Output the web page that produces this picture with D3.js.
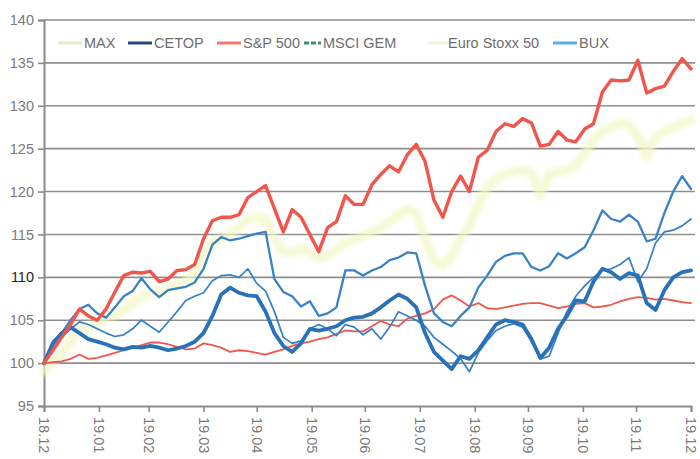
<!DOCTYPE html>
<html>
<head>
<meta charset="utf-8">
<script src="https://cdn.jsdelivr.net/npm/d3@7"></script>
<style>
  html, body { margin: 0; background: #fff; }
  svg { display: block; font-family: "Liberation Sans", Arial, sans-serif; }
</style>
</head>
<body>
<div id="chart"></div>
<script>
const W = 700, H = 459;

// series, every 5 calendar days from 2018-12-31
const startDate = new Date(2018, 11, 31);
const stepDays = 5;

const maxIdx = [100, 100.1, 100.2, 100.5, 101, 100.5, 100.6, 100.9, 101.2, 101.5,
  101.8, 102.1, 102.4, 102.4, 102.2, 101.9, 101.6, 101.7, 102.3, 102.1,
  101.8, 101.3, 101.5, 101.4, 101.2, 101, 101.3, 101.6, 102, 102.3,
  102.5, 102.8, 103, 103.4, 103.8, 103.7, 103.7, 104.3, 104.9, 104.5,
  104.3, 105.2, 105.5, 105.8, 106.3, 107.4, 107.9, 107.3, 106.6, 107,
  106.4, 106.3, 106.5, 106.7, 106.9, 107, 107, 106.7, 106.4, 106.6,
  106.9, 107, 106.5, 106.6, 106.8, 107.2, 107.5, 107.7, 107.6, 107.4,
  107.5, 107.3, 107.1, 107];

const cetop = [100, 102.3, 103.5, 104.2, 103.5, 102.8, 102.5, 102.2, 101.8, 101.6,
  101.9, 101.8, 102, 101.8, 101.5, 101.7, 102, 102.5, 103.5, 105.5,
  108, 108.8, 108.2, 107.9, 107.8, 106, 103.5, 102, 101.3, 102.3,
  104, 103.8, 104, 104.3, 105, 105.3, 105.4, 105.8, 106.5, 107.3,
  108, 107.5, 106.5, 103.5, 101.3, 100.3, 99.3, 100.8, 100.5, 101.5,
  103, 104.5, 105, 104.8, 104.5, 102.8, 100.6, 101.8, 104, 105.5,
  107.3, 107.2, 109.5, 111, 110.6, 109.8, 110.5, 110.2, 107, 106.2,
  108.5, 110, 110.6, 110.8];

const sp500 = [100, 101.5, 103, 104.5, 106.3, 105.5, 105, 106.3, 108.3, 110.2,
  110.6, 110.5, 110.7, 109.5, 109.8, 110.8, 110.9, 111.5, 114.5, 116.6,
  117, 117, 117.3, 119.3, 120, 120.7, 118, 115.3, 117.9, 117,
  115, 113, 115.8, 116.5, 119.5, 118.5, 118.5, 120.8, 122, 123,
  122.3, 124.3, 125.5, 123.5, 119, 117, 120, 121.8, 120, 124,
  124.8, 127, 127.9, 127.6, 128.5, 128, 125.3, 125.5, 127, 126,
  125.8, 127.3, 127.9, 131.6, 133, 132.9, 133, 135.3, 131.5, 132,
  132.3, 134, 135.5, 134.3];

const msciGem = [100, 102.5, 103.5, 105, 106.3, 106.8, 105.8, 105.3, 106.5, 107.8,
  108.4, 109.9, 108.6, 107.7, 108.5, 108.7, 108.9, 109.4, 111, 113.8,
  114.7, 114.3, 114.5, 114.8, 115.1, 115.3, 109.8, 108.3, 107.8, 106.6,
  107.2, 105.5, 105.8, 106.5, 110.8, 110.8, 110.2, 110.8, 111.2, 112,
  112.3, 112.9, 112.8, 109, 105.8, 104.8, 104.3, 105.5, 106.5, 108.8,
  110.2, 111.8, 112.5, 112.8, 112.8, 111.2, 110.8, 111.3, 112.8, 112.2,
  112.8, 113.5, 115.5, 117.8, 116.8, 116.5, 117.3, 116.5, 114.2, 114.5,
  117.5, 120, 121.8, 120.3];

const euroStoxx = [99, 100.3, 101.2, 102.5, 103.8, 104.2, 104.5, 105.3, 105.6, 106.2,
  107, 107.7, 108.2, 108.5, 108.7, 109, 109.5, 110.5, 112.8, 114,
  114.5, 115, 115.8, 116.8, 117, 116.8, 114.5, 113, 112.8, 113.3,
  113, 112.2, 112.5, 113.2, 114, 114.5, 114.8, 115.3, 115.8, 116.5,
  117.3, 118, 117.5, 114.5, 112, 111.4, 112.5, 114.5, 116, 118.5,
  120.5, 121.5, 122, 122.3, 122.5, 122.2, 119.5, 122, 122.3, 122.5,
  123, 124.5, 126, 127, 127.5, 128, 127.8, 126.5, 124, 126.5,
  127, 127.5, 128, 128.3];

const bux = [100, 101.8, 103, 104, 104.8, 104.5, 104, 103.5, 103.1, 103.3,
  104, 105, 104.3, 103.6, 104.8, 106, 107.3, 107.8, 108.2, 109.6,
  110.2, 110.3, 110, 111, 109.3, 108.4, 106, 103, 102.3, 102.6,
  104, 104.5, 104, 103.2, 104.5, 104.2, 103.3, 104, 102.8, 104.2,
  106, 105.5, 105, 104.3, 103, 102.2, 101.4, 100.5, 99, 101.2,
  102.6, 103.8, 104.3, 104.6, 104.2, 102.5, 100.5, 100.8, 103.5, 106,
  107.8, 109, 110, 110.8, 111, 111.5, 112.3, 109.5, 111, 114,
  115.3, 115.5, 116, 116.8];

const seriesNames = ["MAX", "CETOP", "S&P 500", "MSCI GEM", "Euro Stoxx 50", "BUX"];
const seriesValues = [maxIdx, cetop, sp500, msciGem, euroStoxx, bux];

const tickDates = ["2018-12-31", "2019-01-31", "2019-02-28", "2019-03-31", "2019-04-30",
  "2019-05-31", "2019-06-30", "2019-07-31", "2019-08-31", "2019-09-30", "2019-10-31",
  "2019-11-30", "2019-12-31"];
const tickLabels = ["18.12", "19.01", "19.02", "19.03", "19.04", "19.05", "19.06",
  "19.07", "19.08", "19.09", "19.10", "19.11", "19.12"];
const yTicks = [95, 100, 105, 110, 115, 120, 125, 130, 135, 140];

// styling (line colours as printed in the plot, key colours as in the legend)
const lineColor = ["#f0564c", "#2a72b8", "#f0564c", "#3a82c6", "#f2f7c6", "#3580c4"];
const lineWidth = [1.8, 3.8, 3.4, 2.3, 9, 1.7];
const keyColor = ["#e4e8c6", "#24457e", "#f47870", "#3f8c7a", "#f1f4dc", "#5aaee6"];
const drawOrder = [4, 0, 5, 3, 1, 2];

const parse = d3.timeParse("%Y-%m-%d");
const dates = sp500.map((_, i) => d3.timeDay.offset(startDate, i * stepDays));

const x = d3.scaleTime()
  .domain([startDate, parse("2019-12-31")])
  .range([44, 691]);
const y = d3.scaleLinear()
  .domain([95, 140])
  .range([406, 20]);

const svg = d3.select("#chart").append("svg")
  .attr("width", W)
  .attr("height", H)
  .attr("viewBox", [0, 0, W, H]);

svg.append("defs").append("filter")
  .attr("id", "soft")
  .append("feGaussianBlur")
  .attr("stdDeviation", 2);

// grid
svg.append("g")
  .selectAll("line")
  .data(yTicks.slice(1))
  .join("line")
  .attr("x1", 44)
  .attr("x2", 695)
  .attr("y1", d => y(d))
  .attr("y2", d => y(d))
  .attr("stroke", "#8e8e8e")
  .attr("stroke-width", 1.6);

// y axis
const yAxis = svg.append("g")
  .attr("transform", "translate(44,0)")
  .call(d3.axisLeft(y).tickValues(yTicks).tickSize(6).tickPadding(4));
yAxis.select(".domain").attr("stroke", "#8a8a8a").attr("stroke-width", 2);
yAxis.selectAll(".tick line").attr("stroke", "#8a8a8a").attr("stroke-width", 1.6);
yAxis.selectAll(".tick text")
  .attr("font-size", 14.5)
  .attr("font-family", "Liberation Sans, Arial, sans-serif")
  .attr("fill", d => d === 110 ? "#1e1e1e" : "#7a7a7a");

// x axis
const xAxis = svg.append("g")
  .attr("transform", "translate(0,406)")
  .call(d3.axisBottom(x)
    .tickValues(tickDates.map(parse))
    .tickFormat((d, i) => tickLabels[i])
    .tickSize(6));
xAxis.select(".domain").attr("stroke", "#8a8a8a").attr("stroke-width", 2);
xAxis.selectAll(".tick line").attr("stroke", "#8a8a8a").attr("stroke-width", 1.6);
xAxis.selectAll(".tick text")
  .attr("transform", "rotate(90)")
  .attr("x", 11)
  .attr("y", 0)
  .attr("dy", "0.36em")
  .style("text-anchor", "start")
  .attr("font-size", 14.5)
  .attr("font-family", "Liberation Sans, Arial, sans-serif")
  .attr("fill", "#7a7a7a");

// lines
const line = d3.line()
  .x((d, i) => x(dates[i]))
  .y(d => y(d));

const lines = svg.append("g").attr("fill", "none")
  .attr("stroke-linejoin", "round")
  .attr("stroke-linecap", "round");
drawOrder.forEach(k => {
  lines.append("path")
    .datum(seriesValues[k])
    .attr("d", line)
    .attr("stroke", lineColor[k])
    .attr("stroke-width", lineWidth[k])
    .attr("opacity", k === 4 ? 0.75 : 1)
    .attr("filter", k === 4 ? "url(#soft)" : null);
});

// legend
const keyX = [58, 128, 217, 304, 427, 553];
const legend = svg.append("g");
seriesNames.forEach((name, k) => {
  const g = legend.append("g").attr("transform", `translate(${keyX[k]},43)`);
  g.append("line")
    .attr("x1", 0)
    .attr("x2", k === 3 ? 17 : 24)
    .attr("stroke", keyColor[k])
    .attr("stroke-width", 3)
    .attr("stroke-dasharray", k === 3 ? "5 2" : null);
  g.append("text")
    .attr("x", k === 3 ? 19 : k === 4 ? 21 : 26)
    .attr("dy", "0.35em")
    .attr("font-size", 14.5)
    .attr("fill", "#6e6e6e")
    .text(name);
});
</script>
</body>
</html>
